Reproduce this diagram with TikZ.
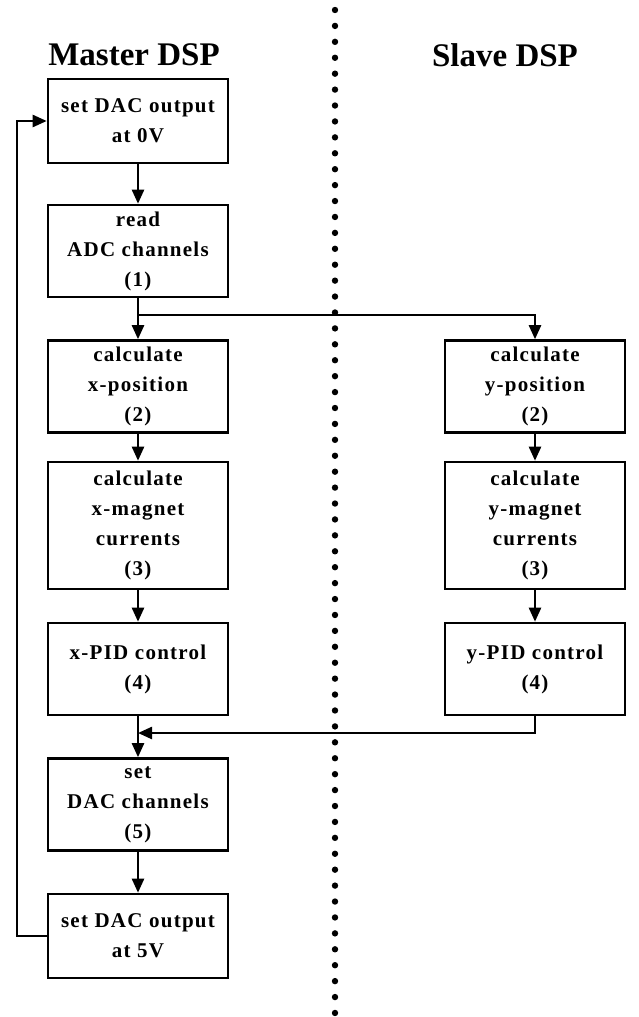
\documentclass[tikz,border=0pt]{standalone}
\usepackage{fontspec}
\setmainfont{Liberation Serif}
\usetikzlibrary{arrows.meta}

\tikzset{
    box/.style = {draw, line width = 1.3pt, minimum width = 90pt,
        minimum height = 46pt, inner sep = 2pt, align = center,
        font = \fontsize{10.5}{15}\selectfont\bfseries\addfontfeature{LetterSpace=6}},
    title/.style = {font = \fontsize{16.5}{20}\selectfont\bfseries}
}

\begin{document}
\begin{tikzpicture}[%
        x = 0.5pt, y = -0.5pt,
        line width = 1.2pt,
        > = {Triangle[length = 7pt, width = 6pt]}
    ]
        \useasboundingbox (0, 0) rectangle (638, 1017);

        % Dotted separator between the two processors.
        \foreach \i in {0,...,63}
            \fill (335, 10 + \i*15.92) circle (1.6pt);

        % Column titles.
        \node[title] (master) at (134, 55) {Master DSP};
        \node[title] (slave)  at (505, 55) {Slave DSP};

        % Master DSP steps.
        \node[box, minimum height = 42pt] (dac0) at (138, 121) {set DAC output\\at 0V};
        \node[box] (adc)  at (138, 251)   {read\\ADC channels\\(1)};
        \node[box] (xpos) at (138, 386.5) {calculate\\x-position\\(2)};
        \node[box, minimum height = 63.5pt] (xmag) at (138, 525.5)
            {calculate\\x-magnet\\currents\\(3)};
        \node[box] (xpid) at (138, 669)   {x-PID control\\(4)};
        \node[box] (dacs) at (138, 804.5) {set\\DAC channels\\(5)};
        \node[box, minimum height = 42pt] (dac5) at (138, 936) {set DAC output\\at 5V};

        % Slave DSP steps.
        \node[box] (ypos) at (535, 386.5) {calculate\\y-position\\(2)};
        \node[box, minimum height = 63.5pt] (ymag) at (535, 525.5)
            {calculate\\y-magnet\\currents\\(3)};
        \node[box] (ypid) at (535, 669)   {y-PID control\\(4)};

        % Branch and merge points.
        \coordinate (split) at (138, 315);
        \coordinate (merge) at (138, 733);

        % Master flow.
        \draw[->] (dac0) -- (adc);
        \draw[->] (adc)  -- (xpos);
        \draw[->] (xpos) -- (xmag);
        \draw[->] (xmag) -- (xpid);
        \draw[->] (xpid) -- (dacs);
        \draw[->] (dacs) -- (dac5);

        % Slave flow.
        \draw[->] (split) -| (ypos);
        \draw[->] (ypos) -- (ymag);
        \draw[->] (ymag) -- (ypid);
        \draw[->] (ypid) |- (merge);

        % Loop back to the start.
        \draw[->] (dac5.west) -- ++(-30, 0) |- (dac0.west);
    \end{tikzpicture}
\end{document}
